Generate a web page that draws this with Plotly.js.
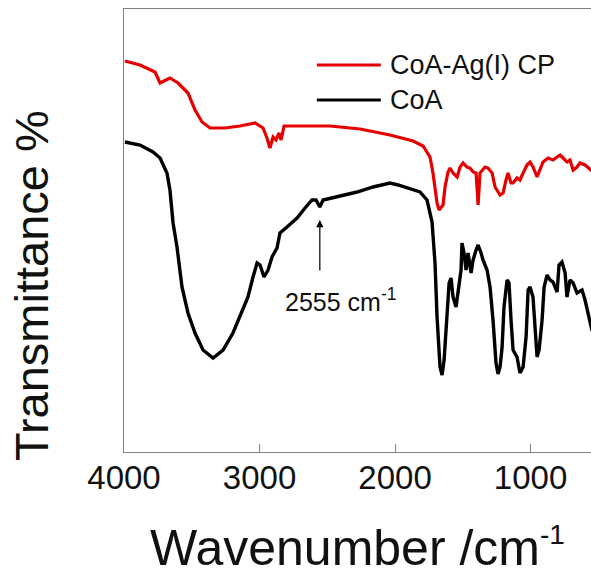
<!DOCTYPE html>
<html>
<head>
<meta charset="utf-8">
<script src="https://cdn.plot.ly/plotly-3.0.1.min.js"></script>
<style>html,body{margin:0;padding:0;background:#fff;}#chart{width:591px;height:577px;}</style>
</head>
<body>
<div id="chart"></div>
<script>
// CoA-Ag(I) CP spectrum (red)
const cpWavenumber = [3993,3882,3771,3756,3734,3705,3661,3601,3528,3476,3424,3365,3255,3144,3033,2974,2945,2923,2900,2878,2856,2841,2819,2701,2480,2258,2037,1867,1793,1742,1720,1690,1675,1646,1631,1609,1594,1572,1542,1520,1498,1469,1447,1424,1402,1387,1373,1336,1314,1284,1262,1225,1203,1181,1166,1144,1129,1100,1078,1055,1026,1004,982,952,930,908,871,834,804,782,760,731,709,686,657,635,598,576,546];
const cpTransmittance = [78.2,77.4,76,75,73.8,74.2,74.8,73.8,71.8,68.4,66,64.8,64.8,65.2,65.8,64.8,62.8,60.8,63,62.4,63.8,62.4,65.2,65.2,65.2,64.6,63.4,62.2,61.2,59,55.8,49.8,48.4,49.4,53,56,56.8,55.8,55,57,57.8,57,56.8,56,55.8,49.4,55.8,57,56.8,55.8,53,51.4,51.8,54.4,55.8,53.8,53.8,54.8,54.4,55.8,57.4,58,57,55,56.4,58,58.8,58.4,59,59.4,58.8,58,58.4,56.4,57,57.8,57.4,56.8,56.2];

// CoA spectrum (black)
const coaWavenumber = [3993,3882,3786,3734,3683,3661,3638,3609,3572,3528,3476,3417,3343,3269,3196,3144,3085,3048,3018,2996,2967,2937,2908,2871,2849,2797,2723,2664,2613,2583,2555,2531,2428,2280,2162,2037,1978,1911,1816,1764,1727,1705,1690,1668,1653,1638,1616,1601,1587,1572,1550,1535,1513,1506,1491,1476,1461,1439,1424,1402,1387,1365,1351,1321,1299,1277,1255,1240,1225,1210,1196,1173,1159,1144,1129,1100,1078,1055,1033,1018,1004,982,967,952,937,915,900,878,856,834,804,790,768,745,731,709,686,657,620,598,576,546];
const coaTransmittance = [62,61.4,60,58.8,55.8,52.4,45.8,41,33,27.8,23.8,20.4,18.8,20.4,23.8,27,31,35,37.8,37.4,35,36.4,39,40.8,43.8,45,46.8,48.8,50.4,50.4,49,50.4,51,52,53,53.8,53.4,52.8,52,50.4,46,37.8,27,17,15.4,18.4,26.4,33.8,34.8,31,29,31.8,36.4,41.8,39.8,36.4,39.8,35.8,38.4,40.4,41.4,39.8,38.4,36.4,33,26.4,17.8,15.6,17,21,29,34.4,33.8,26.4,20.4,19,15.8,17,23,32.4,33,31,24.4,19,20.4,26.4,33,35.4,34.4,34,32,37.4,38,35.8,31,34.4,33.8,31.8,32.4,30.4,27.8,24.2];

const seriesNames = ['CoA-Ag(I) CP', 'CoA'];
const seriesColors = ['#e60000', '#000000'];
const xTickVals = [4000, 3000, 2000, 1000];
const markedPeak = 2555;
const markedPeakLabel = '2555 cm<sup>-1</sup>';
const xTitle = 'Wavenumber /cm<sup><span style="font-size:28px">-1</span></sup>';
const yTitle = 'Transmittance %';

const FONT = 'Liberation Sans, Arial, Helvetica, sans-serif';
const AXIS_GRAY = '#808080';

const traces = [
  {x: cpWavenumber, y: cpTransmittance, name: seriesNames[0], type: 'scatter', mode: 'lines',
   line: {color: seriesColors[0], width: 3.2}},
  {x: coaWavenumber, y: coaTransmittance, name: seriesNames[1], type: 'scatter', mode: 'lines',
   line: {color: seriesColors[1], width: 3.4}}
];

const legX0 = 0.413, legX1 = 0.550, legY = [0.8736, 0.7946];

const layout = {
  width: 591, height: 577,
  margin: {l: 124, r: 0, t: 9, b: 125},
  paper_bgcolor: '#ffffff', plot_bgcolor: '#ffffff',
  showlegend: false,
  font: {family: FONT, color: '#111111'},
  xaxis: {
    range: [4000, 554], autorange: false,
    tickvals: xTickVals, ticktext: xTickVals.map(String),
    ticks: 'inside', ticklen: 8, tickwidth: 1, tickcolor: AXIS_GRAY,
    ticklabelstandoff: -4,
    showline: true, linecolor: AXIS_GRAY, linewidth: 1.3, mirror: true,
    showgrid: false, zeroline: false,
    tickfont: {size: 33, family: FONT, color: '#111111'},
    title: {text: xTitle, font: {size: 50, family: FONT, color: '#111111'}, standoff: 35}
  },
  yaxis: {
    range: [0, 88.6], autorange: false,
    showticklabels: false, ticks: '',
    showline: true, linecolor: AXIS_GRAY, linewidth: 1.3, mirror: false,
    showgrid: false, zeroline: false
  },
  shapes: [
    {type: 'line', xref: 'paper', yref: 'paper', x0: legX0, x1: legX1, y0: legY[0], y1: legY[0],
     line: {color: seriesColors[0], width: 3}},
    {type: 'line', xref: 'paper', yref: 'paper', x0: legX0, x1: legX1, y0: legY[1], y1: legY[1],
     line: {color: seriesColors[1], width: 3}}
  ],
  annotations: [
    {xref: 'paper', yref: 'paper', x: -0.1991, y: 0.3747, xanchor: 'center', yanchor: 'middle',
     text: yTitle, textangle: -90, showarrow: false, font: {size: 47, family: FONT, color: '#111111'}},
    {xref: 'paper', yref: 'paper', x: 0.565, y: legY[0], xanchor: 'left', yanchor: 'middle',
     text: seriesNames[0], showarrow: false, font: {size: 27, family: FONT, color: '#111111'}},
    {xref: 'paper', yref: 'paper', x: 0.565, y: legY[1], xanchor: 'left', yanchor: 'middle',
     text: seriesNames[1], showarrow: false, font: {size: 27, family: FONT, color: '#111111'}},
    {xref: 'x', yref: 'y', x: markedPeak, y: 46.4, axref: 'x', ayref: 'y', ax: markedPeak, ay: 36,
     text: '', showarrow: true, arrowhead: 2, arrowsize: 1.2, arrowwidth: 1.2, arrowcolor: '#000000', standoff: 0},
    {xref: 'x', yref: 'y', x: 2830, y: 30.4, xanchor: 'left', yanchor: 'middle',
     text: markedPeakLabel, showarrow: false, font: {size: 25, family: FONT, color: '#111111'}}
  ]
};

Plotly.newPlot('chart', traces, layout, {staticPlot: true, displayModeBar: false});
</script>
</body>
</html>
